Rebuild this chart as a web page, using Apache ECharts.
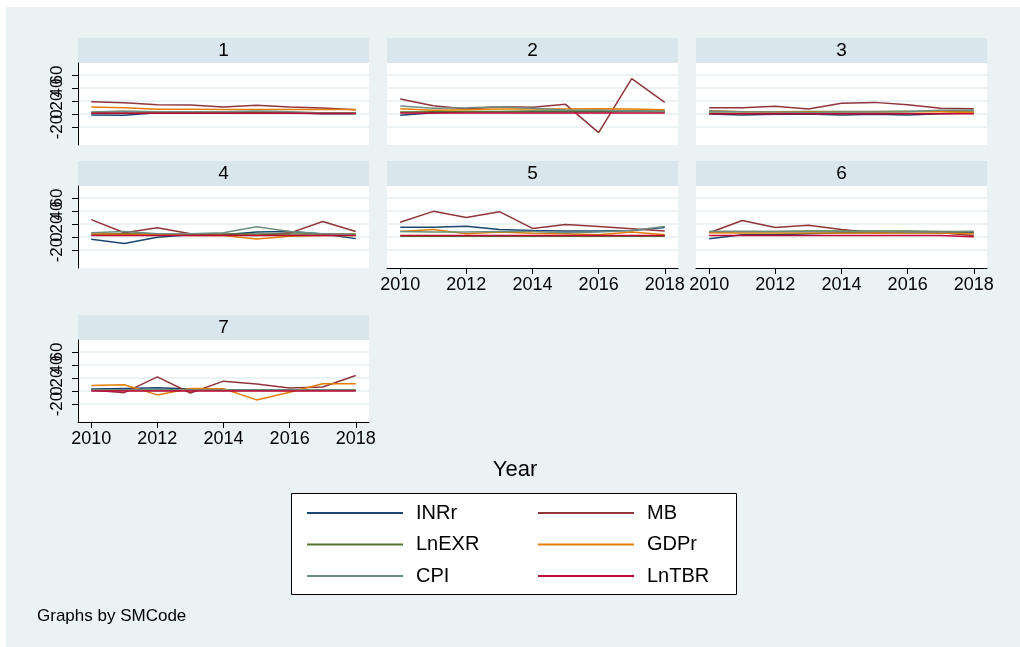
<!DOCTYPE html>
<html>
<head>
<meta charset="utf-8">
<title>Graphs by SMCode</title>
<script src="https://cdn.jsdelivr.net/npm/echarts@6/dist/echarts.min.js"></script>
<style>
  html, body { margin: 0; padding: 0; background: #ffffff; }
  #main { width: 1020px; height: 647px; }
</style>
</head>
<body>
<div id="main"></div>
<script>
// years on the x axis
var years = [2010, 2011, 2012, 2013, 2014, 2015, 2016, 2017, 2018];
var panels = ['1', '2', '3', '4', '5', '6', '7'];
var xTicks = [2010, 2012, 2014, 2016, 2018];
var yTicks = [-20, 0, 20, 40, 60];

// one row per panel (SMCode 1..7), one value per year
var INRr = [
  [-1.5, -2, 2, 2, 2, 2, 2, 0.5, 0.5],
  [-2, 2, 3.6, 3.6, 3.6, 3.6, 3.6, 4.1, 3.6],
  [0, -1.5, -0.5, 0, -1.5, -0.5, -1.5, 0.5, 1.5],
  [-3.5, -10, -0.5, 3.5, 3.5, 7.6, 8.6, 4.6, -2.5],
  [15.2, 15.2, 16.7, 11.6, 10.1, 9.1, 9.1, 10.1, 14.7],
  [-2.5, 3.5, 3.5, 5, 6.6, 6.6, 6.6, 6.6, 6.6],
  [3, 4, 5, 3, 1.5, 1.5, 1, 1, 1]
];
var MB = [
  [19, 17.4, 14.4, 13.8, 10.8, 13.3, 10.8, 9.2, 6.7],
  [23, 12.8, 7.7, 11.3, 10.3, 14.9, -28.7, 54.4, 18],
  [9.7, 9.7, 11.8, 7.7, 16.4, 17.9, 14.4, 8.7, 8.2],
  [26.8, 6.6, 14.2, 5, 4, 2.5, 6, 23.8, 8.6],
  [22.8, 39.5, 29.9, 39, 13.2, 19.2, 16.2, 12.7, 9.1],
  [6.6, 25.3, 14.7, 18.2, 11.6, 6.6, 7.6, 6.6, 2.5],
  [1.5, -2.5, 21.8, -3, 15.2, 10.6, 4.6, 6.1, 23.8]
];
var LnEXR = [
  [2.5, 3.5, 2.5, 2.5, 2.5, 2.5, 2.5, 2, 2],
  [3, 3.5, 4, 4, 4.5, 4.5, 4.5, 4.5, 4.5],
  [3.2, 3.4, 3.6, 3.8, 4, 4, 4.2, 4.4, 4.6],
  [4.5, 5, 4.5, 4.5, 4.5, 4.5, 4.5, 4.5, 4.5],
  [1, 1, 1, 1, 1, 1, 1, 1, 1],
  [8.6, 8.6, 8.6, 9.1, 9.1, 9.1, 9.1, 8.6, 8.6],
  [1.5, 1.5, 1.5, 1.5, 1.5, 1.5, 1.5, 1.5, 1.5]
];
var GDPr = [
  [10.8, 9.7, 7.2, 7.2, 7, 7, 7, 7, 7],
  [8, 5.6, 6.7, 7.7, 7.7, 7.7, 8, 7.7, 6.7],
  [5, 3.6, 3, 3, 3, 3, 3.6, 3.6, 2.5],
  [5, 4, 4, 2.5, 2.5, -3, 1, 2.5, 2.5],
  [8.6, 11.6, 5, 7.6, 5.6, 5, 3.5, 7.6, 3.5],
  [6.6, 6, 6, 6, 6, 6, 6, 6, 5],
  [8.6, 9.6, -6, 4, 3.5, -13.7, -2, 11.1, 11.1]
];
var CPI = [
  [3, 4.6, 3.6, 3.6, 3.6, 4.6, 3.6, 1.5, 1.5],
  [12.3, 8.7, 9.7, 11.3, 8.7, 6.2, 5.6, 4.6, 4.1],
  [4.6, 3.6, 3, 2.5, 3, 3, 3.6, 5.6, 6.2],
  [6.6, 8.6, 5, 5, 6.6, 15.7, 8.6, 5, 3.5],
  [8.6, 7.6, 7.6, 8.6, 8.6, 6.6, 7.6, 10.1, 16.2],
  [8.6, 8.6, 8.6, 8.6, 8.6, 8.6, 7.6, 7.6, 8.6],
  [2, 1.5, 1.5, 1.5, 1.5, 1.5, 1.5, 1.5, 1.5]
];
var LnTBR = [
  [1.2, 1.2, 1, 1, 1, 1, 1, 0.8, 0.8],
  [1.5, 1.5, 1.5, 1.5, 1.5, 1.5, 1.5, 1.5, 1.5],
  [0.5, 0.5, 0.5, 0.5, 0.5, 0.5, 0.5, 0.5, 0.5],
  [2.5, 2.5, 2.5, 2.5, 2.5, 2.5, 2.5, 2.5, 2.5],
  [2.5, 2.5, 2.5, 2.5, 2.5, 2.5, 2.5, 2.5, 2.5],
  [2.5, 2.5, 2.5, 2.5, 2.5, 2.5, 2.5, 2.5, 0.5],
  [0, 0, 0, 0, 0, 0, 0, 0, 0]
];

var vars = [
  { name: 'INRr', data: INRr, color: '#1a476f' },
  { name: 'MB', data: MB, color: '#90353b' },
  { name: 'LnEXR', data: LnEXR, color: '#55752f' },
  { name: 'GDPr', data: GDPr, color: '#e37e00' },
  { name: 'CPI', data: CPI, color: '#6e8e84' },
  { name: 'LnTBR', data: LnTBR, color: '#c10534' }
];

var font = '"Liberation Sans", Arial, Helvetica, sans-serif';
var colLeft = [78, 387, 696];
var rowTop = [63, 186, 340];
var plotW = 291, plotH = 82, stripH = 25;
var yMin = -47.7, yMax = 78.5;

// the y labels overlap on purpose (as in the original); echarts drops
// overlapping ones, so they are split over two stacked axes per panel
var yTicksA = yTicks.filter(function (v, k) { return k % 2 === 0; });
var yTicksB = yTicks.filter(function (v, k) { return k % 2 === 1; });

var grids = [], xAxes = [], yAxes = [], series = [];
var graphics = [
  // graph region
  { type: 'rect', z: -10, shape: { x: 6, y: 7, width: 1014, height: 640 }, style: { fill: '#eaf2f3' } }
];

function yLabel(show, values) {
  return {
    show: show, customValues: values, rotate: 90, margin: 12,
    hideOverlap: false, fontSize: 17, fontFamily: font, color: '#000',
    formatter: function (v) { return String(v); }
  };
}

panels.forEach(function (p, i) {
  var col = i % 3, row = Math.floor(i / 3);
  var left = colLeft[col], top = rowTop[row];
  var firstCol = col === 0;
  var bottomOfCol = (i >= 4); // panels 5, 6, 7 carry the x axis

  grids.push({
    left: left, top: top, width: plotW, height: plotH,
    show: true, backgroundColor: '#ffffff', borderWidth: 0,
    outerBoundsMode: 'none'
  });

  // strip with panel label
  graphics.push({
    type: 'rect', z: -5,
    shape: { x: left, y: top - stripH, width: plotW, height: stripH },
    style: { fill: '#d9e6eb' }
  });
  graphics.push({
    type: 'text', z: 5,
    x: left + plotW / 2, y: top - stripH / 2,
    style: { text: p, font: '19px ' + font, fill: '#000', align: 'center', verticalAlign: 'middle' }
  });

  xAxes.push({
    gridIndex: i, type: 'value', min: 2009.6, max: 2018.4,
    axisLine: { show: bottomOfCol, onZero: false, lineStyle: { color: '#000', width: 1 } },
    axisTick: { show: bottomOfCol, length: 6, customValues: xTicks, lineStyle: { color: '#000' } },
    axisLabel: {
      show: bottomOfCol, customValues: xTicks, margin: 8, hideOverlap: false,
      fontSize: 18, fontFamily: font, color: '#000',
      formatter: function (v) { return String(v); }
    },
    splitLine: { show: false }
  });

  var yIndex = yAxes.length;
  yAxes.push({
    gridIndex: i, type: 'value', position: 'left', min: yMin, max: yMax,
    axisLine: { show: firstCol, onZero: false, lineStyle: { color: '#000', width: 1 } },
    axisTick: { show: firstCol, length: 6, customValues: yTicks, lineStyle: { color: '#000' } },
    axisLabel: yLabel(firstCol, yTicksA),
    splitLine: { show: true, lineStyle: { color: '#e6eff1', width: 1.5 } }
  });
  yAxes.push({
    gridIndex: i, type: 'value', position: 'left', offset: 0, min: yMin, max: yMax,
    axisLine: { show: false, onZero: false },
    axisTick: { show: false },
    axisLabel: yLabel(firstCol, yTicksB),
    splitLine: { show: false }
  });

  vars.forEach(function (v) {
    series.push({
      name: v.name, type: 'line', xAxisIndex: i, yAxisIndex: yIndex,
      data: years.map(function (y, k) { return [y, v.data[i][k]]; }),
      showSymbol: false, symbol: 'none', silent: true,
      lineStyle: { color: v.color, width: 1.5 },
      itemStyle: { color: v.color }
    });
  });
});

// axis title, legend frame and note
graphics.push({
  type: 'text', x: 515, y: 470,
  style: { text: 'Year', font: '22px ' + font, fill: '#000', align: 'center', verticalAlign: 'middle' }
});
graphics.push({
  type: 'rect', z: -4,
  shape: { x: 291.5, y: 493.5, width: 445, height: 101 },
  style: { fill: '#ffffff', stroke: '#000000', lineWidth: 1 }
});
graphics.push({
  type: 'text', x: 37, y: 616,
  style: { text: 'Graphs by SMCode', font: '17px ' + font, fill: '#000', align: 'left', verticalAlign: 'middle' }
});

var legendBase = {
  orient: 'vertical', top: 498, itemGap: 11.5,
  icon: 'rect', itemWidth: 96, itemHeight: 2,
  selectedMode: false,
  textStyle: { fontSize: 20, fontFamily: font, color: '#000', padding: [0, 0, 0, 8] }
};

var option = {
  animation: false,
  backgroundColor: 'transparent',
  grid: grids,
  xAxis: xAxes,
  yAxis: yAxes,
  legend: [
    Object.assign({}, legendBase, { left: 302, data: ['INRr', 'LnEXR', 'CPI'] }),
    Object.assign({}, legendBase, { left: 533, data: ['MB', 'GDPr', 'LnTBR'] })
  ],
  graphic: graphics,
  series: series
};

var myChart = echarts.init(document.getElementById('main'), null, { renderer: 'canvas' });
myChart.setOption(option);
</script>
</body>
</html>
